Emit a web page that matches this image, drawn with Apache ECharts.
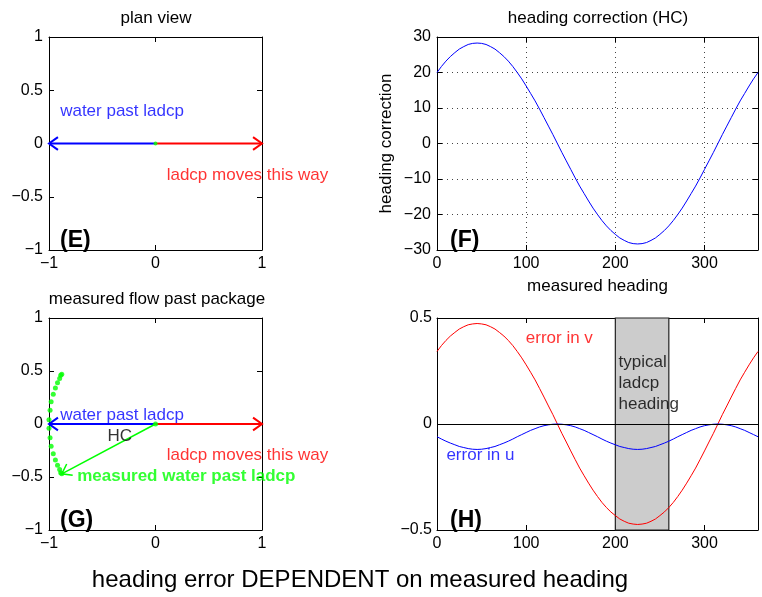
<!DOCTYPE html>
<html>
<head>
<meta charset="utf-8">
<script src="https://cdn.jsdelivr.net/npm/echarts@6/dist/echarts.min.js"></script>
<style>
html,body{margin:0;padding:0;background:#fff;}
#chart{width:762px;height:597px;}
</style>
</head>
<body>
<div id="chart"></div>
<script>
// ---------------- data ----------------
const headings = [0,5,10,15,20,25,30,35,40,45,50,55,60,65,70,75,80,85,90,95,100,105,110,115,120,125,130,135,140,145,150,155,160,165,170,175,180,185,190,195,200,205,210,215,220,225,230,235,240,245,250,255,260,265,270,275,280,285,290,295,300,305,310,315,320,325,330,335,340,345,350,355,360];
const headingCorrection = [
  20.0,21.7,23.2,24.5,25.6,26.6,27.3,27.9,28.2,28.3,
  28.2,27.9,27.3,26.6,25.6,24.5,23.2,21.7,20.0,
  18.2,16.2,14.1,12.0,9.7,7.3,4.9,2.5,0.0,
  -2.5,-4.9,-7.3,-9.7,-12.0,-14.1,-16.2,-18.2,-20.0,
  -21.7,-23.2,-24.5,-25.6,-26.6,-27.3,-27.9,-28.2,-28.3,
  -28.2,-27.9,-27.3,-26.6,-25.6,-24.5,-23.2,-21.7,-20.0,
  -18.2,-16.2,-14.1,-12.0,-9.7,-7.3,-4.9,-2.5,0.0,
  2.5,4.9,7.3,9.7,12.0,14.1,16.2,18.2,20.0];
const errorV = [
  0.342,0.370,0.394,0.415,0.432,0.448,0.459,0.468,0.472,0.474,
  0.472,0.468,0.459,0.448,0.432,0.415,0.394,0.370,0.342,
  0.312,0.279,0.244,0.208,0.168,0.127,0.085,0.044,0.000,
  -0.044,-0.085,-0.127,-0.168,-0.208,-0.244,-0.279,-0.312,-0.342,
  -0.370,-0.394,-0.415,-0.432,-0.448,-0.459,-0.468,-0.472,-0.474,
  -0.472,-0.468,-0.459,-0.448,-0.432,-0.415,-0.394,-0.370,-0.342,
  -0.312,-0.279,-0.244,-0.208,-0.168,-0.127,-0.085,-0.044,0.000,
  0.044,0.085,0.127,0.168,0.208,0.244,0.279,0.312,0.342];
const errorU = [
  -0.060,-0.071,-0.081,-0.090,-0.098,-0.106,-0.111,-0.116,-0.119,-0.120,
  -0.119,-0.116,-0.111,-0.106,-0.098,-0.090,-0.081,-0.071,-0.060,
  -0.050,-0.040,-0.030,-0.022,-0.014,-0.008,-0.004,-0.001,0.000,
  -0.001,-0.004,-0.008,-0.014,-0.022,-0.030,-0.040,-0.050,-0.060,
  -0.071,-0.081,-0.090,-0.098,-0.106,-0.111,-0.116,-0.119,-0.120,
  -0.119,-0.116,-0.111,-0.106,-0.098,-0.090,-0.081,-0.071,-0.060,
  -0.050,-0.040,-0.030,-0.022,-0.014,-0.008,-0.004,-0.001,0.000,
  -0.001,-0.004,-0.008,-0.014,-0.022,-0.030,-0.040,-0.050,-0.060];
const measuredDotsX = [-0.88,-0.89,-0.90,-0.92,-0.94,-0.96,-0.98,-0.99,-1.00,-1.00,-0.99,-0.98,-0.96,-0.94,-0.92,-0.90,-0.89,-0.88];
const measuredDotsY = [0.47,0.46,0.43,0.39,0.34,0.28,0.21,0.13,0.04,-0.04,-0.13,-0.21,-0.28,-0.34,-0.39,-0.43,-0.46,-0.47];
const waterPastLadcp = [0, 0, -1, 0];
const ladcpMovesThisWay = [0, 0, 1, 0];
const measuredWaterPastLadcp = [0, 0, -0.88, -0.47];
const origin = [0, 0];
const typicalHeadingRange = [200, 260];
const planLimits = [-1, 1];
const hcLimits = [-30, 30];
const errLimits = [-0.5, 0.5];
const headingLimits = [0, 360];

// text annotations (text, data x, data y)
const planViewText = [['water past ladcp', -0.9, 0.30], ['ladcp moves this way', 0.1, -0.30]];
const measuredText = [['water past ladcp', -0.9, 0.085], ['HC', -0.455, -0.12], ['ladcp moves this way', 0.1, -0.30], ['measured water past ladcp', -0.74, -0.49]];
const errorText = [['error in v', 99, 0.405], ['error in u', 10, -0.15], ['typical\nladcp\nheading', 203, 0.193]];

// ---------------- styling helpers ----------------
const FONT = '"Liberation Sans", Arial, Helvetica, sans-serif';
const BLUE = '#0000ff', RED = '#ff0000', GREEN = '#00ff00';
const minus = v => String(v).replace('-', '\u2212');

const grids = [
  {left: 49, top: 37, width: 213, height: 213},
  {left: 437, top: 37, width: 321, height: 213},
  {left: 49, top: 318, width: 213, height: 212},
  {left: 437, top: 318, width: 321, height: 212}
];

function axis(gridIndex, position, lim, interval, labels, extra) {
  return Object.assign({
    type: 'value', gridIndex, position, min: lim[0], max: lim[1], interval,
    axisLine: {show: true, onZero: false, lineStyle: {color: '#000', width: 1}},
    axisTick: {show: true, inside: true, length: 5, lineStyle: {color: '#000'}},
    axisLabel: {show: labels, formatter: minus, color: '#000', fontSize: 16, fontFamily: FONT, margin: 6},
    splitLine: {show: false}
  }, extra || {});
}
const dotted = {show: true, lineStyle: {color: '#444', type: [1, 4], width: 1}};

const xAxes = [
  axis(0, 'bottom', planLimits, 1, true),
  axis(0, 'top', planLimits, 1, false),
  axis(1, 'bottom', headingLimits, 100, true, {splitLine: dotted, name: 'measured heading', nameLocation: 'middle', nameGap: 28, nameTextStyle: {fontSize: 17, fontFamily: FONT, color: '#000'}}),
  axis(1, 'top', headingLimits, 100, false),
  axis(2, 'bottom', planLimits, 1, true),
  axis(2, 'top', planLimits, 1, false),
  axis(3, 'bottom', headingLimits, 100, true),
  axis(3, 'top', headingLimits, 100, false)
];
xAxes[2].axisLabel.showMaxLabel = false;
xAxes[6].axisLabel.showMaxLabel = false;

const yAxes = [
  axis(0, 'left', planLimits, 0.5, true),
  axis(0, 'right', planLimits, 0.5, false),
  axis(1, 'left', hcLimits, 10, true, {splitLine: dotted, name: 'heading correction', nameLocation: 'middle', nameGap: 42, nameTextStyle: {fontSize: 17, fontFamily: FONT, color: '#000'}}),
  axis(1, 'right', hcLimits, 10, false),
  axis(2, 'left', planLimits, 0.5, true),
  axis(2, 'right', planLimits, 0.5, false),
  axis(3, 'left', errLimits, 0.5, true),
  axis(3, 'right', errLimits, 0.5, false)
];
yAxes[6].axisLabel.margin = 5;

function arrowSeries(xi, yi, vec, color, width) {
  return {
    type: 'custom', xAxisIndex: xi, yAxisIndex: yi, z: 4,
    itemStyle: {color},
    encode: {x: [0, 2], y: [1, 3]},
    data: [vec],
    renderItem: function (params, api) {
      const p0 = api.coord([api.value(0), api.value(1)]);
      const p1 = api.coord([api.value(2), api.value(3)]);
      const ang = Math.atan2(p1[1] - p0[1], p1[0] - p0[0]);
      const L = 11, A = 0.62;
      const h1 = [p1[0] - L * Math.cos(ang - A), p1[1] - L * Math.sin(ang - A)];
      const h2 = [p1[0] - L * Math.cos(ang + A), p1[1] - L * Math.sin(ang + A)];
      const st = {stroke: color, lineWidth: width, fill: 'none'};
      return {type: 'group', children: [
        {type: 'line', shape: {x1: p0[0], y1: p0[1], x2: p1[0], y2: p1[1]}, style: st},
        {type: 'polyline', shape: {points: [h1, p1, h2]}, style: st}
      ]};
    }
  };
}

function textSeries(xi, yi, items, colors, weights) {
  return {
    type: 'scatter', xAxisIndex: xi, yAxisIndex: yi, z: 6, symbolSize: 1, clip: false,
    itemStyle: {color: 'rgba(0,0,0,0)'},
    data: items.map((t, i) => ({
      name: t[0], value: [t[1], t[2]],
      label: {show: true, position: 'right', distance: 0, formatter: '{b}', color: colors[i],
        fontSize: 17, fontFamily: FONT, fontWeight: weights ? weights[i] : 'normal', lineHeight: 21}
    }))
  };
}

const series = [
  // (E) plan view
  arrowSeries(0, 0, waterPastLadcp, BLUE, 2),
  arrowSeries(0, 0, ladcpMovesThisWay, RED, 2),
  {type: 'scatter', xAxisIndex: 0, yAxisIndex: 0, z: 5, symbolSize: 4, itemStyle: {color: GREEN}, data: [origin]},
  textSeries(0, 0, planViewText, [BLUE, RED]),
  // (F) heading correction
  {type: 'line', xAxisIndex: 2, yAxisIndex: 2, showSymbol: false,
    lineStyle: {color: BLUE, width: 1}, data: headings.map((h, i) => [h, headingCorrection[i]])},
  // (G) measured flow
  {type: 'scatter', xAxisIndex: 4, yAxisIndex: 4, z: 5, symbolSize: 5, clip: false, itemStyle: {color: GREEN},
    data: measuredDotsX.map((x, i) => [x, measuredDotsY[i]])},
  arrowSeries(4, 4, waterPastLadcp, BLUE, 2),
  arrowSeries(4, 4, ladcpMovesThisWay, RED, 2),
  arrowSeries(4, 4, measuredWaterPastLadcp, GREEN, 1.5),
  {type: 'scatter', xAxisIndex: 4, yAxisIndex: 4, z: 5, symbolSize: 5, itemStyle: {color: GREEN}, data: [origin]},
  textSeries(4, 4, measuredText, [BLUE, '#000', RED, GREEN], ['normal', 'normal', 'normal', 'bold']),
  // (H) errors
  {type: 'line', xAxisIndex: 6, yAxisIndex: 6, z: 1, showSymbol: false, silent: true,
    lineStyle: {opacity: 0, width: 0},
    data: [[typicalHeadingRange[0], 0], [typicalHeadingRange[1], 0]],
    markArea: {silent: true, itemStyle: {color: '#cccccc', borderColor: '#222', borderWidth: 1.2},
      data: [[{xAxis: typicalHeadingRange[0]}, {xAxis: typicalHeadingRange[1]}]]}},
  {type: 'line', xAxisIndex: 6, yAxisIndex: 6, z: 3, showSymbol: false,
    lineStyle: {color: RED, width: 1}, data: headings.map((h, i) => [h, errorV[i]]),
    markLine: {silent: true, symbol: 'none', label: {show: false}, lineStyle: {color: '#000', type: 'solid', width: 1},
      data: [{yAxis: 0}]}},
  {type: 'line', xAxisIndex: 6, yAxisIndex: 6, z: 3, showSymbol: false,
    lineStyle: {color: BLUE, width: 1}, data: headings.map((h, i) => [h, errorU[i]])},
  textSeries(6, 6, errorText, [RED, BLUE, '#000'])
];

function txt(text, x, y, size, weight, align) {
  return {type: 'text', x, y, z: 100, style: {text, fill: '#000', font: (weight || 'normal') + ' ' + size + 'px ' + FONT,
    textAlign: align || 'center', textVerticalAlign: 'middle'}};
}

const option = {
  animation: false,
  backgroundColor: '#fff',
  grid: grids,
  xAxis: xAxes,
  yAxis: yAxes,
  series: series,
  graphic: [
    txt('plan view', 156, 18, 17),
    txt('heading correction (HC)', 598, 18, 17),
    txt('measured flow past package', 157, 299, 17),
    txt('heading error DEPENDENT on measured heading', 360, 580, 24),
    txt('(E)', 60, 241, 23, 'bold', 'left'),
    txt('(F)', 450, 241, 23, 'bold', 'left'),
    txt('(G)', 60, 521, 23, 'bold', 'left'),
    txt('(H)', 450, 521, 23, 'bold', 'left')
  ]
};

const chart = echarts.init(document.getElementById('chart'), null, {renderer: 'canvas'});
chart.setOption(option);
</script>
</body>
</html>
